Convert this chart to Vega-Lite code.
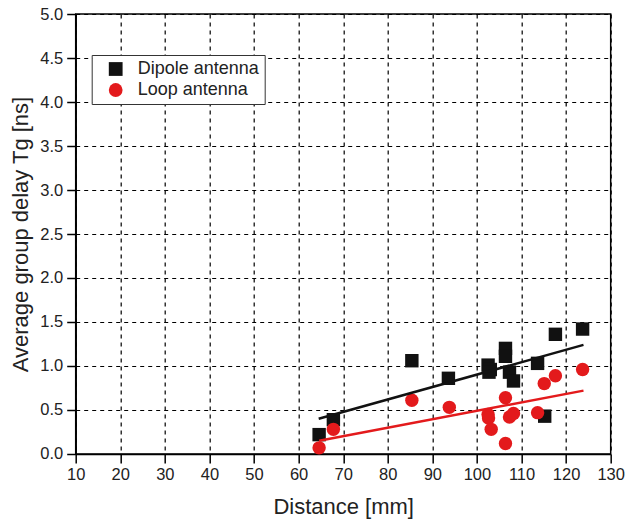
{
  "$schema": "https://vega.github.io/schema/vega-lite/v6.json",
  "width": 535,
  "height": 440,
  "autosize": "none",
  "padding": {"left": 75.7, "top": 14, "right": 18, "bottom": 70},
  "background": "white",
  "config": {
    "font": "Liberation Sans",
    "view": {"stroke": "black", "strokeWidth": 1.5},
    "axis": {
      "domainColor": "black",
      "domainWidth": 1.5,
      "tickColor": "black",
      "tickWidth": 1.5,
      "labelColor": "#222",
      "labelFont": "Liberation Sans",
      "labelFontSize": 16.5,
      "titleFont": "Liberation Sans",
      "titleFontSize": 22,
      "titleFontWeight": "normal",
      "titleColor": "#222",
      "gridColor": "black",
      "gridDash": [4, 4],
      "gridWidth": 1.2
    },
    "legend": {
      "orient": "none",
      "legendX": 16,
      "legendY": 41,
      "strokeColor": "#333",
      "fillColor": "white",
      "padding": 5,
      "labelFontSize": 18,
      "labelColor": "#222",
      "labelFont": "Liberation Sans",
      "symbolSize": 190,
      "symbolStrokeWidth": 0,
      "rowPadding": 3,
      "labelOffset": 13,
      "symbolOffset": 10
    }
  },
  "datasets": {
    "pts": [
      {"series": "Dipole antenna", "distance": 64.6, "delay": 0.22},
      {"series": "Dipole antenna", "distance": 67.8, "delay": 0.39},
      {"series": "Dipole antenna", "distance": 85.4, "delay": 1.06},
      {"series": "Dipole antenna", "distance": 93.6, "delay": 0.86},
      {"series": "Dipole antenna", "distance": 102.5, "delay": 1.01},
      {"series": "Dipole antenna", "distance": 103.0, "delay": 0.96},
      {"series": "Dipole antenna", "distance": 102.7, "delay": 0.93},
      {"series": "Dipole antenna", "distance": 106.4, "delay": 1.20},
      {"series": "Dipole antenna", "distance": 106.4, "delay": 1.11},
      {"series": "Dipole antenna", "distance": 107.3, "delay": 0.93},
      {"series": "Dipole antenna", "distance": 108.2, "delay": 0.83},
      {"series": "Dipole antenna", "distance": 113.6, "delay": 1.03},
      {"series": "Dipole antenna", "distance": 115.2, "delay": 0.43},
      {"series": "Dipole antenna", "distance": 117.6, "delay": 1.36},
      {"series": "Dipole antenna", "distance": 123.7, "delay": 1.42},
      {"series": "Loop antenna", "distance": 64.6, "delay": 0.07},
      {"series": "Loop antenna", "distance": 67.8, "delay": 0.28},
      {"series": "Loop antenna", "distance": 85.4, "delay": 0.61},
      {"series": "Loop antenna", "distance": 93.8, "delay": 0.53},
      {"series": "Loop antenna", "distance": 102.5, "delay": 0.45},
      {"series": "Loop antenna", "distance": 102.6, "delay": 0.41},
      {"series": "Loop antenna", "distance": 103.2, "delay": 0.28},
      {"series": "Loop antenna", "distance": 106.4, "delay": 0.64},
      {"series": "Loop antenna", "distance": 106.4, "delay": 0.12},
      {"series": "Loop antenna", "distance": 107.3, "delay": 0.42},
      {"series": "Loop antenna", "distance": 108.2, "delay": 0.46},
      {"series": "Loop antenna", "distance": 113.6, "delay": 0.47},
      {"series": "Loop antenna", "distance": 115.1, "delay": 0.80},
      {"series": "Loop antenna", "distance": 117.6, "delay": 0.89},
      {"series": "Loop antenna", "distance": 123.7, "delay": 0.96}
    ],
    "fits": [
      {"series": "Dipole antenna", "distance": 64.5, "delay": 0.40},
      {"series": "Dipole antenna", "distance": 123.9, "delay": 1.24},
      {"series": "Loop antenna", "distance": 64.6, "delay": 0.15},
      {"series": "Loop antenna", "distance": 123.9, "delay": 0.72}
    ]
  },
  "layer": [
    {
      "data": {"name": "pts"},
      "mark": {"type": "point", "filled": true, "opacity": 1, "size": 180},
      "encoding": {
        "x": {
          "field": "distance", "type": "quantitative",
          "scale": {"domain": [10, 130], "nice": false, "zero": false},
          "axis": {
            "title": "Distance [mm]",
            "values": [10, 15, 20, 25, 30, 35, 40, 45, 50, 55, 60, 65, 70, 75, 80, 85, 90, 95, 100, 105, 110, 115, 120, 125, 130],
            "labelExpr": "datum.value % 10 === 0 ? datum.value : ''",
            "grid": true,
            "gridOpacity": {"condition": {"test": "datum.value % 10 === 0", "value": 1}, "value": 0},
            "tickSize": {"condition": {"test": "datum.value % 10 === 0", "value": 9}, "value": 5},
            "labelPadding": 4,
            "labelFlush": false,
            "titlePadding": 13
          }
        },
        "y": {
          "field": "delay", "type": "quantitative",
          "scale": {"domain": [0, 5], "nice": false},
          "axis": {
            "title": "Average group delay Tg [ns]",
            "values": [0, 0.25, 0.5, 0.75, 1, 1.25, 1.5, 1.75, 2, 2.25, 2.5, 2.75, 3, 3.25, 3.5, 3.75, 4, 4.25, 4.5, 4.75, 5],
            "labelExpr": "datum.value % 0.5 === 0 ? format(datum.value, '.1f') : ''",
            "grid": true,
            "gridOpacity": {"condition": {"test": "datum.value % 0.5 === 0", "value": 1}, "value": 0},
            "tickSize": {"condition": {"test": "datum.value % 0.5 === 0", "value": 9}, "value": 5},
            "labelPadding": 4,
            "labelFlush": false,
            "titlePadding": 7
          }
        },
        "color": {
          "field": "series", "type": "nominal",
          "scale": {"domain": ["Dipole antenna", "Loop antenna"], "range": ["#111111", "#e31a1c"]},
          "legend": {"title": null}
        },
        "shape": {
          "field": "series", "type": "nominal",
          "scale": {"domain": ["Dipole antenna", "Loop antenna"], "range": ["square", "circle"]},
          "legend": {"title": null}
        }
      }
    },
    {
      "data": {"name": "fits"},
      "mark": {"type": "line", "strokeWidth": 2.5, "clip": true},
      "encoding": {
        "x": {"field": "distance", "type": "quantitative"},
        "y": {"field": "delay", "type": "quantitative"},
        "color": {
          "field": "series", "type": "nominal",
          "legend": {"title": null}
        }
      }
    }
  ]
}
